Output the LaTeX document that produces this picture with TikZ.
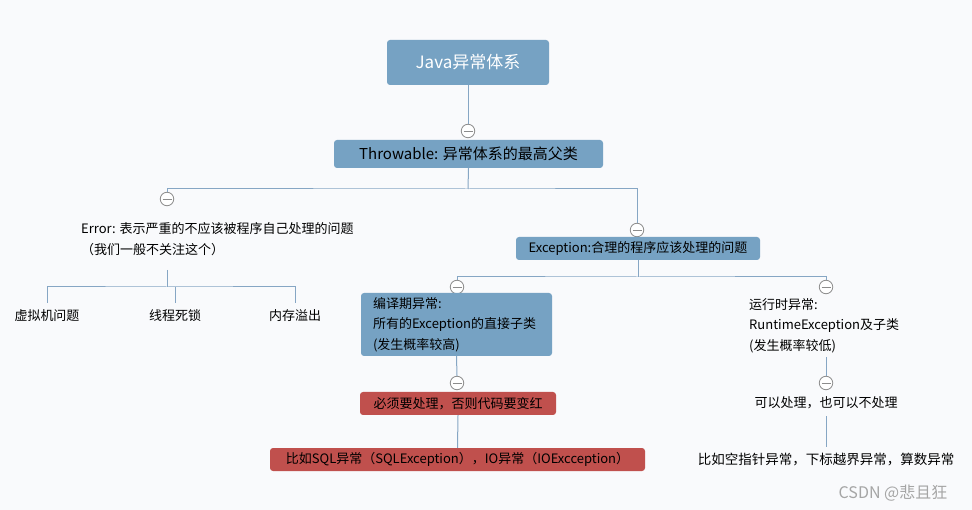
\documentclass[tikz,border=0pt]{standalone}
\usepackage{fontspec}
\setmainfont{Noto Sans CJK SC}
\definecolor{bg}{RGB}{249,250,252}
\definecolor{boxblue}{RGB}{118,162,195}
\definecolor{boxred}{RGB}{192,80,77}
\definecolor{conn}{RGB}{134,166,196}
\definecolor{circ}{RGB}{140,140,140}
\definecolor{wm}{RGB}{165,165,165}
\tikzset{
  bluebox/.style={fill=boxblue, rounded corners=3pt, inner sep=0pt, text=black, font=\fontsize{13}{16}\selectfont},
  redbox/.style={fill=boxred, rounded corners=3pt, inner sep=0pt, text=black, font=\fontsize{13}{16}\selectfont},
  plain/.style={inner sep=0pt, text=black, font=\fontsize{13}{16}\selectfont},
  multi/.style={inner sep=0pt, text=black, align=left, font=\fontsize{13}{20.5}\selectfont},
  toggle/.style={circle, draw=circ, fill=white, minimum size=13.5pt, inner sep=0pt, line width=0.8pt,
    path picture={\draw[circ,line width=0.8pt] ([xshift=-4.5pt]path picture bounding box.center) -- ([xshift=4.5pt]path picture bounding box.center);}},
  link/.style={draw=conn, line width=1pt}
}
\begin{document}
\begin{tikzpicture}[x=1pt,y=-1pt]
\fill[bg] (0,0) rectangle (972,510);
\useasboundingbox (0,0) rectangle (972,510);

% root
\node[bluebox, minimum width=162pt, minimum height=45pt, text=white, font=\fontsize{17}{20}\selectfont] (java) at (468,62.5) {Java异常体系};
\node[toggle] (c1) at (468,131) {};
\node[bluebox, minimum width=269pt, minimum height=28pt, font=\fontsize{15}{18}\selectfont] (thr) at (468.5,154) {Throwable: 异常体系的最高父类};
\coordinate (j1) at (468,189);
\node[toggle] (c2) at (167,199) {};
\node[toggle] (c3) at (637,230) {};

% Error branch
\node[multi, anchor=west] (err) at (81,239) {Error: 表示严重的不应该被程序自己处理的问题\\（我们一般不关注这个）};
\coordinate (e0) at (167,270);
\coordinate (e1) at (167,287);
\node[plain, minimum height=26pt] (vm) at (47,316) {虚拟机问题};
\node[plain, minimum height=26pt] (dl) at (175,316) {线程死锁};
\node[plain, minimum height=26pt] (oom) at (295,316) {内存溢出};

% Exception branch
\node[bluebox, minimum width=244pt, minimum height=23pt] (exc) at (638,248.5) {Exception:合理的程序应该处理的问题};
\coordinate (x1) at (638,277);
\node[toggle] (c4) at (457,287) {};
\node[toggle] (c5) at (826,287) {};

\node[bluebox, multi, fill=boxblue, rounded corners=3pt, minimum width=191pt, minimum height=63pt, text width=167pt, inner xsep=12pt, inner ysep=0pt] (chk) at (456.5,324.5) {编译期异常:\\所有的Exception的直接子类\\(发生概率较高)};
\node[toggle] (c6) at (457,383) {};
\node[redbox, minimum width=196pt, minimum height=23pt] (r1) at (458,403.5) {必须要处理，否则代码要变红};
\node[redbox, minimum width=375pt, minimum height=23pt] (r2) at (457.5,459.5) {比如SQL异常（SQLException），IO异常（IOExcception）};

\node[multi, anchor=west] (rt) at (749,325.5) {运行时异常:\\RuntimeException及子类\\(发生概率较低)};
\coordinate (r0) at (826,357);
\node[toggle] (c7) at (826,383) {};
\node[plain, minimum height=26pt] (can) at (826,403) {可以处理，也可以不处理};
\node[plain, minimum height=26pt, font=\fontsize{13.5}{16}\selectfont] (eg) at (826,460) {比如空指针异常，下标越界异常，算数异常};

\node[inner sep=0pt, text=wm, font=\fontsize{16}{18}\selectfont] (mark) at (893,493) {CSDN @悲且狂};

% connectors
\draw[link] (java.south) -- (c1.north);
\draw[link] (thr.south) -- (j1);
\draw[link] (c2.north) |- (j1) -| (c3.north);
\draw[link] (e0) -- (e1);
\draw[link] (vm.north) |- (e1) -| (oom.north);
\draw[link] (dl.north) -- (dl.north |- e1);
\draw[link] (exc.south) -- (x1);
\draw[link] (c4.north) |- (x1) -| (c5.north);
\draw[link] (chk.south) -- (c6.north);
\draw[link] (r1.south) -- (r2.north);
\draw[link] (r0) -- (c7.north);
\draw[link] (can.south) -- (eg.north);
\end{tikzpicture}
\end{document}
